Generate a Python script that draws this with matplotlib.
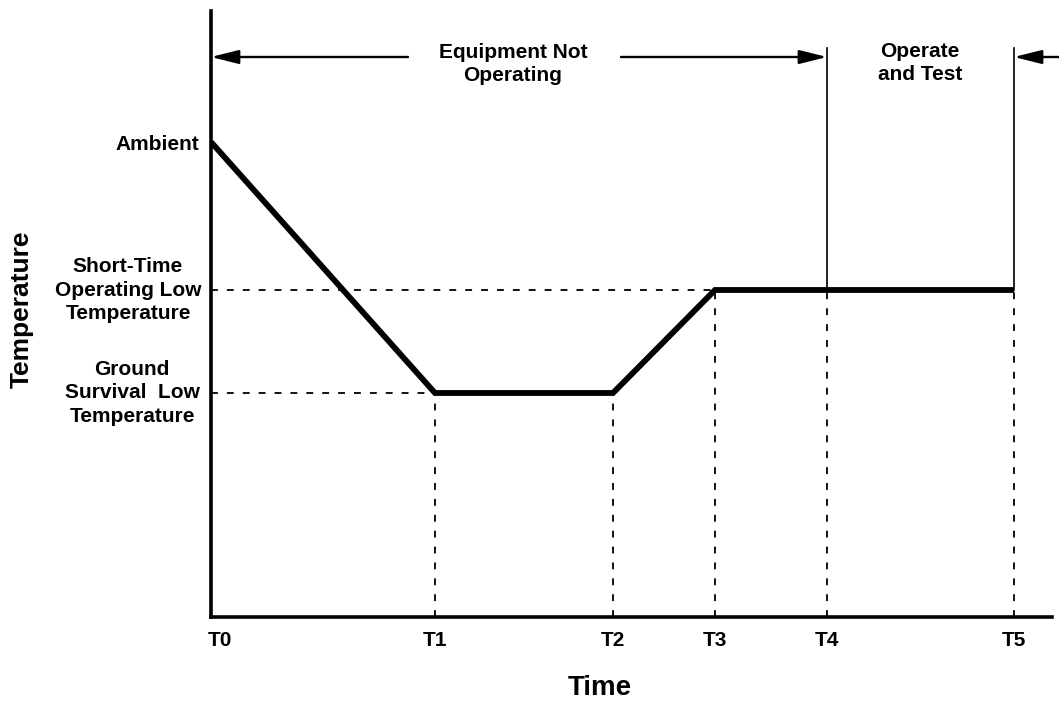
import matplotlib
matplotlib.use("Agg")
import matplotlib.pyplot as plt

plt.rcParams['font.family'] = ['Liberation Sans', 'DejaVu Sans']
plt.rcParams['font.weight'] = 'bold'

# Time marks and temperature levels (arbitrary units)
tick_labels = ["T0", "T1", "T2", "T3", "T4", "T5"]
tick_times = [0.0, 2.24, 4.02, 5.04, 6.16, 8.03]
ambient = 4.75
short_time_low = 3.27
ground_low = 2.24

# Temperature profile
profile_t = [0.0, 2.24, 4.02, 5.04, 8.03]
profile_temp = [ambient, ground_low, ground_low, short_time_low, short_time_low]

level_labels = ["Ambient", "Short-Time\nOperating Low\nTemperature", "Ground\nSurvival  Low\nTemperature"]
phase_labels = ["Equipment Not\nOperating", "Operate\nand Test"]

W, H = 1059, 702
fig = plt.figure(figsize=(W / 100, H / 100), dpi=100)
x0, x1, y0, y1 = 211, 1052, 617, 11
ax = fig.add_axes([x0 / W, (H - y0) / H, (x1 - x0) / W, (y0 - y1) / H])
ax.set_xlim(0, (x1 - x0) / 100)
ax.set_ylim(0, (y0 - y1) / 100)
for s in ["top", "right"]:
    ax.spines[s].set_visible(False)
for s in ["left", "bottom"]:
    ax.spines[s].set_linewidth(2.6)
    ax.spines[s].set_capstyle('projecting')
ax.set_xticks([])
ax.set_yticks([])

dash = dict(color='black', lw=1.3, dashes=(3.8, 5))
T0, T1, T2, T3, T4, T5 = tick_times
# dashed guides
ax.plot([0, T3], [short_time_low] * 2, **dash)
ax.plot([0, T1], [ground_low] * 2, **dash)
for t, lv in zip([T1, T2, T3, T4, T5], [ground_low, ground_low, short_time_low, short_time_low, short_time_low]):
    ax.plot([t, t], [0, lv], **dash)

# solid thin verticals at T4, T5
top_v = (y0 - 48) / 100
for t in [T4, T5]:
    ax.plot([t, t], [short_time_low, top_v], color='black', lw=1.2)

# profile
ax.plot(profile_t, profile_temp, color='black', lw=4.2, solid_capstyle='butt', solid_joinstyle='miter')

# phase arrows
ay = (y0 - 57) / 100
ap = dict(arrowstyle='-|>,head_length=1.2,head_width=0.3', color='black', lw=1.7,
          mutation_scale=14, shrinkA=0, shrinkB=0)
ax.annotate("", xy=(T0, ay), xytext=(1.97, ay), arrowprops=ap, annotation_clip=False)
ax.annotate("", xy=(T4, ay), xytext=(4.10, ay), arrowprops=ap, annotation_clip=False)
ax.annotate("", xy=(T5, ay), xytext=(8.7, ay), arrowprops=ap, annotation_clip=False)

ax.text(3.02, (y0 - 64) / 100, phase_labels[0], ha='center', va='center', fontsize=15,
        fontweight='bold', linespacing=1.3)
ax.text(7.09, (y0 - 63) / 100, phase_labels[1], ha='center', va='center', fontsize=15,
        fontweight='bold', linespacing=1.3)

# level labels
ax.text(-0.12, (y0 - 145) / 100, level_labels[0], ha='right', va='center', fontsize=15, fontweight='bold')
ax.text(-0.83, short_time_low, level_labels[1], ha='center', va='center', fontsize=15,
        fontweight='bold', linespacing=1.3, clip_on=False)
ax.text(-0.79, ground_low, level_labels[2], ha='center', va='center', fontsize=15,
        fontweight='bold', linespacing=1.3, clip_on=False)

# tick labels
for lab, t in zip(tick_labels, tick_times):
    xx = t + (0.09 if lab == "T0" else 0.0)
    ax.text(xx, -0.23, lab, ha='center', va='center', fontsize=15, fontweight='bold', clip_on=False)

ax.text(3.89, -0.71, "Time", ha='center', va='center', fontsize=20, fontweight='bold', clip_on=False)
ax.text(-1.89, (y0 - 309) / 100, "Temperature", ha='center', va='center', rotation=90,
        fontsize=19, fontweight='bold', clip_on=False)

fig.savefig("out.png", dpi=100)
